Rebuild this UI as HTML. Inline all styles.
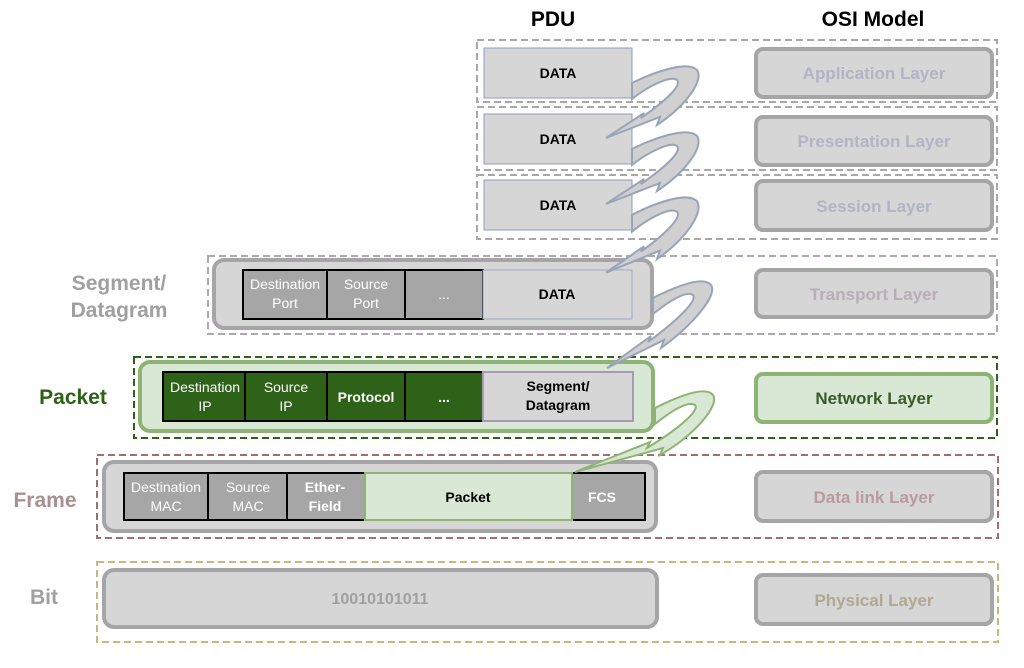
<!DOCTYPE html>
<html><head><meta charset="utf-8"><style>
body{margin:0;background:#fff;}
svg{display:block;font-family:"Liberation Sans",sans-serif;}
</style></head><body>
<svg width="1024" height="668" viewBox="0 0 1024 668" xmlns="http://www.w3.org/2000/svg">
<defs>
<path id="arr" d="M0,-2 C20,-12 55,-25 65,-15 C72,-5 55,20 25,40 L28,32 L-26,53 L12,28 L9,33 C35,15 50,0 45,-5 C38,-10 15,2 0,14 Z"/>
</defs>
<!-- titles -->
<text x="553" y="26" font-size="21" font-weight="bold" text-anchor="middle" fill="#000">PDU</text>
<text x="873" y="26" font-size="21" font-weight="bold" text-anchor="middle" fill="#000">OSI Model</text>

<!-- dashed containers -->
<g fill="none" stroke-width="2" stroke-dasharray="7,4">
<rect x="477" y="40" width="520" height="62" stroke="#a8a8a8"/>
<rect x="477" y="107" width="520" height="63" stroke="#a8a8a8"/>
<rect x="477" y="175" width="520" height="64" stroke="#a8a8a8"/>
<rect x="208" y="256" width="789" height="78" stroke="#b0a8b0"/>
<rect x="134" y="357" width="863" height="81" stroke="#2d6218"/>
<rect x="97" y="455" width="901" height="83" stroke="#a07070"/>
<rect x="97" y="562" width="901" height="80" stroke="#c8b880"/>
</g>

<!-- top DATA boxes -->
<g fill="#d6d6d6" stroke="#8c9cc0" stroke-width="1">
<rect x="484" y="48" width="148" height="50"/>
<rect x="484" y="114" width="148" height="50"/>
<rect x="484" y="180" width="148" height="50"/>
</g>
<g font-size="14" font-weight="bold" text-anchor="middle" fill="#000">
<text x="558" y="78">DATA</text>
<text x="558" y="144">DATA</text>
<text x="558" y="210">DATA</text>
</g>

<!-- OSI boxes -->
<g stroke-width="4">
<rect x="756" y="49" width="236" height="48" rx="7" fill="#d6d6d6" stroke="#a5a5a5"/>
<rect x="756" y="117" width="236" height="48" rx="7" fill="#d6d6d6" stroke="#a5a5a5"/>
<rect x="756" y="181" width="236" height="49" rx="7" fill="#d6d6d6" stroke="#a5a5a5"/>
<rect x="756" y="270" width="236" height="47" rx="7" fill="#d6d6d6" stroke="#a5a5a5"/>
<rect x="756" y="374" width="236" height="48" rx="7" fill="#d9e8d4" stroke="#8db474"/>
<rect x="756" y="472" width="236" height="49" rx="7" fill="#d6d6d6" stroke="#a5a5a5"/>
<rect x="756" y="575" width="236" height="49" rx="7" fill="#d6d6d6" stroke="#a5a5a5"/>
</g>
<g font-size="17" font-weight="bold" text-anchor="middle">
<text x="874" y="79" fill="#b0b4c4">Application Layer</text>
<text x="874" y="147" fill="#b0b4c4">Presentation Layer</text>
<text x="874" y="212" fill="#b0b4c4">Session Layer</text>
<text x="874" y="300" fill="#b8aeb8">Transport Layer</text>
<text x="874" y="404" fill="#3a5a2a">Network Layer</text>
<text x="874" y="503" fill="#b89c9c">Data link Layer</text>
<text x="874" y="606" fill="#b0a890">Physical Layer</text>
</g>

<!-- left labels -->
<g font-size="21" font-weight="bold" text-anchor="middle">
<text x="119" y="290" fill="#a0a0a0">Segment/</text>
<text x="119" y="317" fill="#a0a0a0">Datagram</text>
<text x="73" y="404" fill="#2d6218">Packet</text>
<text x="45" y="507" fill="#a89090">Frame</text>
<text x="44" y="604" fill="#a0a0a0">Bit</text>
</g>

<!-- transport -->
<rect x="214" y="260" width="438" height="68" rx="10" fill="#d6d6d6" stroke="#a5a5a5" stroke-width="4"/>
<g stroke="#000" stroke-width="2" fill="#a6a6a6">
<rect x="243" y="270" width="84" height="49"/>
<rect x="327" y="270" width="78" height="49"/>
<rect x="405" y="270" width="78" height="49"/>
</g>
<rect x="483" y="270" width="149" height="49" fill="#d6d6d6" stroke="#9ca8cc" stroke-width="1"/>
<g font-size="14" text-anchor="middle" fill="#fff">
<text x="285" y="289">Destination</text><text x="285" y="308">Port</text>
<text x="366" y="289">Source</text><text x="366" y="308">Port</text>
<text x="444" y="299">...</text>
</g>
<text x="557" y="299" font-size="14" font-weight="bold" text-anchor="middle">DATA</text>

<!-- network -->
<rect x="140" y="362" width="513" height="69" rx="10" fill="#d9e8d4" stroke="#8db474" stroke-width="4"/>
<g stroke="#000" stroke-width="2" fill="#2d6218">
<rect x="163" y="372" width="82" height="49"/>
<rect x="245" y="372" width="82" height="49"/>
<rect x="327" y="372" width="78" height="49"/>
<rect x="405" y="372" width="78" height="49"/>
</g>
<rect x="483" y="372" width="150" height="49" fill="#d6d6d6" stroke="#a899b8" stroke-width="2"/>
<g font-size="14" text-anchor="middle" fill="#fff">
<text x="205" y="392">Destination</text><text x="205" y="411">IP</text>
<text x="286" y="392">Source</text><text x="286" y="411">IP</text>
<text x="366" y="402" font-weight="bold">Protocol</text>
<text x="444" y="402" font-weight="bold">...</text>
</g>
<g font-size="14" font-weight="bold" text-anchor="middle" fill="#000">
<text x="558" y="391">Segment/</text><text x="558" y="410">Datagram</text>
</g>

<!-- frame -->
<rect x="104" y="462" width="552" height="69" rx="10" fill="#d6d6d6" stroke="#a5a5a5" stroke-width="4"/>
<g stroke="#000" stroke-width="2" fill="#a6a6a6">
<rect x="124" y="473" width="84" height="47"/>
<rect x="208" y="473" width="79" height="47"/>
<rect x="287" y="473" width="78" height="47"/>
<rect x="572" y="473" width="73" height="47"/>
</g>
<rect x="365" y="473" width="207" height="47" fill="#d9e8d4" stroke="#8db474" stroke-width="2"/>
<g font-size="14" text-anchor="middle" fill="#fff">
<text x="166" y="492">Destination</text><text x="166" y="511">MAC</text>
<text x="248" y="492">Source</text><text x="248" y="511">MAC</text>
<text x="325" y="492" font-weight="bold">Ether-</text><text x="325" y="511" font-weight="bold">Field</text>
<text x="602" y="502" font-weight="bold">FCS</text>
</g>
<text x="468" y="502" font-size="14" font-weight="bold" text-anchor="middle">Packet</text>

<!-- bit -->
<rect x="104" y="570" width="553" height="57" rx="10" fill="#d6d6d6" stroke="#a5a5a5" stroke-width="4"/>
<text x="380" y="604" font-size="16" font-weight="bold" text-anchor="middle" fill="#a0a0a0">10010101011</text>

<!-- arrows -->
<g fill="#d0d0d0" stroke="#9aa4b8" stroke-width="2">
<use href="#arr" transform="translate(632,85)"/>
<use href="#arr" transform="translate(632,151)"/>
<use href="#arr" transform="translate(632,217) scale(1,1.05)"/>
<path transform="translate(653,300)" d="M0,-2 C20,-12 50,-25 58,-15 C65,-5 40,25 8,48 L11,40 L-46,68 L-2,36 L-5,42 C25,20 45,0 40,-5 C33,-10 15,2 0,14 Z"/>
</g>
<path transform="translate(655,410)" fill="#d9e8d4" stroke="#8db474" stroke-width="2" d="M0,-2 C20,-12 50,-25 58,-15 C65,-5 40,25 5,45 L8,38 L-80,62 L-5,32 L-8,38 C25,18 45,0 40,-5 C33,-10 15,2 0,14 Z"/>
</svg>
</body></html>
